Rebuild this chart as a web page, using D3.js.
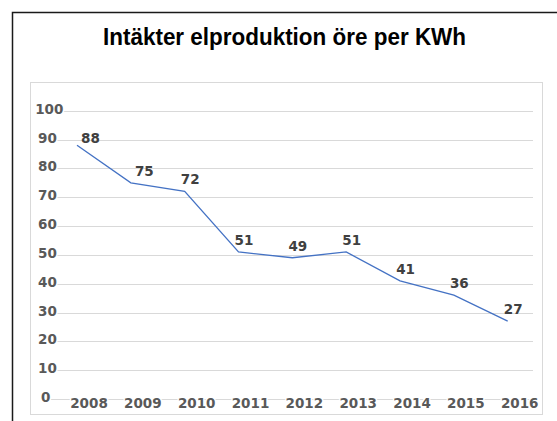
<!DOCTYPE html>
<html><head><meta charset="utf-8">
<script src="https://cdn.jsdelivr.net/npm/d3@7"></script>
<style>
html,body{margin:0;padding:0;background:#fff;}
svg{display:block;}
</style></head>
<body>
<script>
const title = "Intäkter elproduktion öre per KWh";
const years = ["2008","2009","2010","2011","2012","2013","2014","2015","2016"];
const values = [88, 75, 72, 51, 49, 51, 41, 36, 27];
const yTicks = [0,10,20,30,40,50,60,70,80,90,100];

const W = 557, H = 421;
const svg = d3.select("body").append("svg").attr("width", W).attr("height", H);

// outer frame (extends beyond right/bottom edges)
svg.append("rect").attr("x", 12.5).attr("y", 12.5).attr("width", 560).attr("height", 420)
  .attr("fill", "none").attr("stroke", "#1a1a1a").attr("stroke-width", 1.5);

svg.append("text").attr("x", 103).attr("y", 45)
  .attr("textLength", 363).attr("lengthAdjust", "spacingAndGlyphs")
  .style("font-family", "'Liberation Sans Narrow','Arial Narrow','Liberation Sans',Arial,sans-serif")
  .style("font-weight", "bold").style("font-size", "24px").attr("fill", "#000")
  .text(title);

// chart area box
svg.append("rect").attr("x", 30.5).attr("y", 82.5).attr("width", 512).attr("height", 332)
  .attr("fill", "none").attr("stroke", "#d9d9d9").attr("stroke-width", 1);

const x = d3.scalePoint().domain(years).range([77, 507.7]);
const y = d3.scaleLinear().domain([0, 100]).range([399, 110.7]);

const lblFont = "'DejaVu Sans',Verdana,sans-serif";

// gridlines
svg.append("g").selectAll("line").data(yTicks).join("line")
  .attr("x1", 50).attr("x2", 533)
  .attr("y1", d => Math.round(y(d)) + 0.5).attr("y2", d => Math.round(y(d)) + 0.5)
  .attr("stroke", "#d9d9d9").attr("stroke-width", 1);

// y-axis labels
svg.append("g").selectAll("text").data(yTicks).join("text")
  .attr("x", d => 41 - (String(d).length - 1) * 2.9)
  .attr("y", d => y(d) + 3)
  .style("font-family", lblFont).style("font-weight", "bold").style("font-size", "13.5px")
  .attr("fill", "#595959")
  .attr("stroke", "#fff").attr("stroke-width", 3).attr("paint-order", "stroke")
  .text(d => d);

// x-axis labels
svg.append("g").selectAll("text").data(years).join("text")
  .attr("x", d => x(d) + 12).attr("y", 408)
  .attr("text-anchor", "middle")
  .style("font-family", lblFont).style("font-weight", "bold").style("font-size", "13.5px")
  .attr("fill", "#595959")
  .attr("stroke", "#fff").attr("stroke-width", 3).attr("paint-order", "stroke")
  .text(d => d);

// line
const line = d3.line().x((d, i) => x(years[i])).y(d => y(d));
svg.append("path").datum(values).attr("d", line)
  .attr("fill", "none").attr("stroke", "#4472C4").attr("stroke-width", 1.3);

// data labels
svg.append("g").selectAll("text").data(values).join("text")
  .attr("x", (d, i) => x(years[i]) + (i < 2 ? 13.5 : 5.5))
  .attr("y", (d, i) => y(d) - (i === 0 ? 7 : 12) + 5)
  .attr("text-anchor", "middle")
  .style("font-family", lblFont).style("font-weight", "bold").style("font-size", "13.5px")
  .attr("fill", "#404040")
  .text(d => d);
</script>
</body></html>
